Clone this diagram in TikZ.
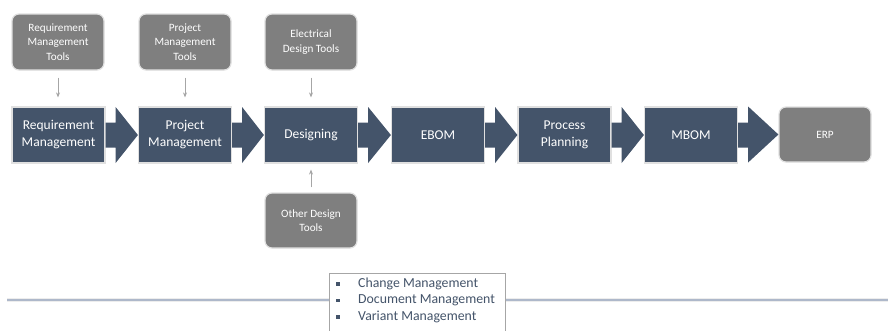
\documentclass[tikz,border=0pt]{standalone}
\usepackage{fontspec}
\setmainfont{Carlito}
\usetikzlibrary{arrows.meta,calc}
\definecolor{navy}{HTML}{44546A}
\definecolor{toolgrey}{HTML}{7F7F7F}
\definecolor{thinarrow}{HTML}{A6A6A6}
\definecolor{rulecol}{HTML}{AEB8CA}
\begin{document}
\begin{tikzpicture}[x=1pt,y=-1pt,
  mainbox/.style={fill=navy, draw=black!12, line width=1.2pt, minimum width=93pt, minimum height=56pt,
    inner sep=0pt, text=white, align=center, font=\fontsize{13.5}{17}\selectfont},
  toolbox/.style={fill=toolgrey, draw=black!12, line width=1.2pt, rounded corners=7pt, minimum width=92pt,
    minimum height=56pt, inner sep=0pt, text=white, align=center, font=\fontsize{11.2}{14.2}\selectfont},
  feed/.style={draw=thinarrow, line width=0.8pt, -{Stealth[length=5pt,width=4pt]}, shorten <=7pt, shorten >=9pt},
  blockarrow/.style={fill=navy},
  listtext/.style={anchor=west, text=navy, inner sep=0pt, font=\fontsize{13.8}{16}\selectfont},
  bulletmark/.style={fill=navy, minimum size=3.2pt, inner sep=0pt}
]
\clip (0,0) rectangle (888,330);
\fill[white] (0,0) rectangle (888,330);

% main chain
\node[mainbox] (req) at (58.5,135) {Requirement\\Management};
\node[mainbox] (prj) at (185,135) {Project\\Management};
\node[mainbox] (des) at (311,135) {Designing};
\node[mainbox] (ebom) at (438,135) {EBOM};
\node[mainbox] (pp) at (564.5,135) {Process\\Planning};
\node[mainbox] (mbom) at (691,135) {MBOM};
\node[toolbox, minimum height=55pt] (erp) at (825,134.5) {ERP};

% block arrows
\foreach \a/\b in {req/prj, prj/des, des/ebom, ebom/pp, pp/mbom, mbom/erp}{
  \fill[blockarrow] ([yshift=-12.5pt]\a.east) -- ++(10,0) |- ([yshift=-28pt]\b.west -| {$(\a.east)+(10,0)$})
    -- (\b.west) -- ([yshift=28pt]\b.west -| {$(\a.east)+(10,0)$}) -- ([yshift=12.5pt]\a.east -| {$(\a.east)+(10,0)$})
    -- ([yshift=12.5pt]\a.east) -- cycle;
}

% tool boxes
\node[toolbox] (rt) at (58,42) {Requirement\\Management\\Tools};
\node[toolbox] (pt) at (185,42) {Project\\Management\\Tools};
\node[toolbox] (et) at (311,42) {Electrical\\Design Tools};
\node[toolbox, minimum height=55pt] (ot) at (311,220.5) {Other Design\\Tools};

\draw[feed] (rt.south) -- (rt.south |- req.north);
\draw[feed] (pt.south) -- (pt.south |- prj.north);
\draw[feed] (et.south) -- (des.north);
\draw[feed, shorten <=5pt, shorten >=6pt] (ot.north) -- (des.south);

% horizontal rule
\coordinate (ruleL) at (7,300);
\coordinate (ruleR) at (888,300);
\draw[draw=black!7, line width=3.5pt] (ruleL) -- (ruleR);
\draw[draw=rulecol, line width=1.3pt] (ruleL) -- (ruleR);

% list box
\node[draw=black!35, fill=white, line width=0.8pt, anchor=north west, minimum width=176pt, minimum height=70pt, inner sep=0pt] (lst) at (328.5,272.5) {};
\node[bulletmark] (b1) at (338,284) {};
\node[bulletmark] (b2) at (338,300.5) {};
\node[bulletmark] (b3) at (338,317) {};
\node[listtext] (l1) at (358,284) {Change Management};
\node[listtext] (l2) at (358,300.5) {Document Management};
\node[listtext] (l3) at (358,317) {Variant Management};
\end{tikzpicture}
\end{document}
